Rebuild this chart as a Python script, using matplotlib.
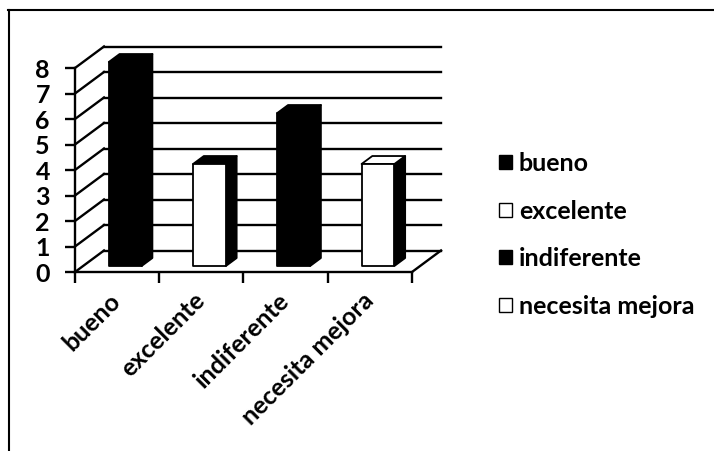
import matplotlib
matplotlib.use("Agg")
import matplotlib.pyplot as plt
from matplotlib.patches import Patch, Polygon
from matplotlib.lines import Line2D

# Data
categories = ["bueno", "excelente", "indiferente", "necesita mejora"]
values = [8, 4, 6, 4]
front_colors = ["black", "white", "black", "white"]
top_colors = ["black", "black", "black", "white"]
y_ticks = list(range(0, 9))

plt.rcParams["font.family"] = ["Lato", "DejaVu Sans"]
plt.rcParams["font.weight"] = "bold"

W, H = 714, 451
fig = plt.figure(figsize=(W / 100, H / 100), dpi=100)
fig.patch.set_facecolor("white")

# Front plane of the 3D box: x 0..4 categories, y 0..8
ax_l, ax_r, ax_t, ax_b = 75, 412, 68, 272
ax = fig.add_axes([ax_l / W, 1 - ax_b / H, (ax_r - ax_l) / W, (ax_b - ax_t) / H])
ax.set_xlim(0, len(categories))
ax.set_ylim(0, 8)
ax.set_facecolor("none")

# oblique depth offset, in data units (about 29 px right, 21.5 px up)
px_x = (ax_r - ax_l) / len(categories)
px_y = (ax_b - ax_t) / 8
DX = 29 / px_x
DY = 21.5 / px_y


def proj(x, y, d):
    return (x + d * DX, y + d * DY)


lw = 1.7
n = len(categories)
# back wall and left wall gridlines
for v in y_ticks:
    x0, y0 = proj(0, v, 1)
    x1, y1 = proj(n, v, 1)
    ax.add_line(Line2D([x0, x1], [y0, y1], color="black", lw=lw, zorder=1, clip_on=False))
    ax.add_line(Line2D([0, x0], [v, y0], color="black", lw=lw, zorder=1, clip_on=False))
# floor right edge
xa, ya = proj(n, 0, 0)
xb, yb = proj(n, 0, 1)
ax.add_line(Line2D([xa, xb], [ya, yb], color="black", lw=lw, zorder=1, clip_on=False))

# bars
bw = 0.39
d0, d1 = 0.28, 0.65
for i, (v, fc, tc) in enumerate(zip(values, front_colors, top_colors)):
    cx = i + 0.5
    xl, xr = cx - bw / 2, cx + bw / 2
    front = [proj(xl, 0, d0), proj(xr, 0, d0), proj(xr, v, d0), proj(xl, v, d0)]
    side = [proj(xr, 0, d0), proj(xr, 0, d1), proj(xr, v, d1), proj(xr, v, d0)]
    top = [proj(xl, v, d0), proj(xr, v, d0), proj(xr, v, d1), proj(xl, v, d1)]
    ax.add_patch(Polygon(side, closed=True, facecolor="black", edgecolor="black",
                         lw=1.3, joinstyle="round", zorder=3, clip_on=False))
    ax.add_patch(Polygon(top, closed=True, facecolor=tc, edgecolor="black",
                         lw=1.3, joinstyle="round", zorder=3, clip_on=False))
    ax.add_patch(Polygon(front, closed=True, facecolor=fc, edgecolor="black",
                         lw=1.3, joinstyle="round", zorder=4, clip_on=False))

# axes spines and ticks
for s in ["top", "right"]:
    ax.spines[s].set_visible(False)
for s in ["left", "bottom"]:
    ax.spines[s].set_linewidth(lw)
    ax.spines[s].set_zorder(2)

FS = 18
ax.set_yticks(y_ticks)
ax.set_yticklabels([str(t) for t in y_ticks], fontsize=FS, fontweight="bold")
ax.tick_params(axis="y", length=7, width=lw, pad=11)

ax.set_xticks(range(n + 1))
ax.set_xticklabels([])
ax.set_xticks([i + 0.5 for i in range(n)], minor=True)
ax.set_xticklabels(categories, minor=True, fontsize=FS, fontweight="bold",
                   rotation=45, ha="right", va="center", rotation_mode="anchor")
ax.tick_params(axis="x", which="major", length=8, width=lw)
ax.tick_params(axis="x", which="minor", length=0, pad=18)

# legend
handles = [Patch(facecolor=fc, edgecolor="black", linewidth=1.0) for fc in front_colors]
fig.legend(handles, categories, loc="upper left", bbox_to_anchor=(489 / W, 1 - 142 / H),
           frameon=False, prop={"weight": "bold", "size": FS},
           handlelength=0.5, handleheight=0.5, handletextpad=0.3, labelspacing=0.98,
           borderaxespad=0)

# outer frame (top and left edges)
fig.add_artist(Line2D([8 / W, 1], [1 - 10 / H, 1 - 10 / H], color="black", lw=1.5,
                      transform=fig.transFigure))
fig.add_artist(Line2D([9 / W, 9 / W], [0, 1 - 10 / H], color="black", lw=1.5,
                      transform=fig.transFigure))

fig.savefig("out.png", dpi=100, facecolor="white")
